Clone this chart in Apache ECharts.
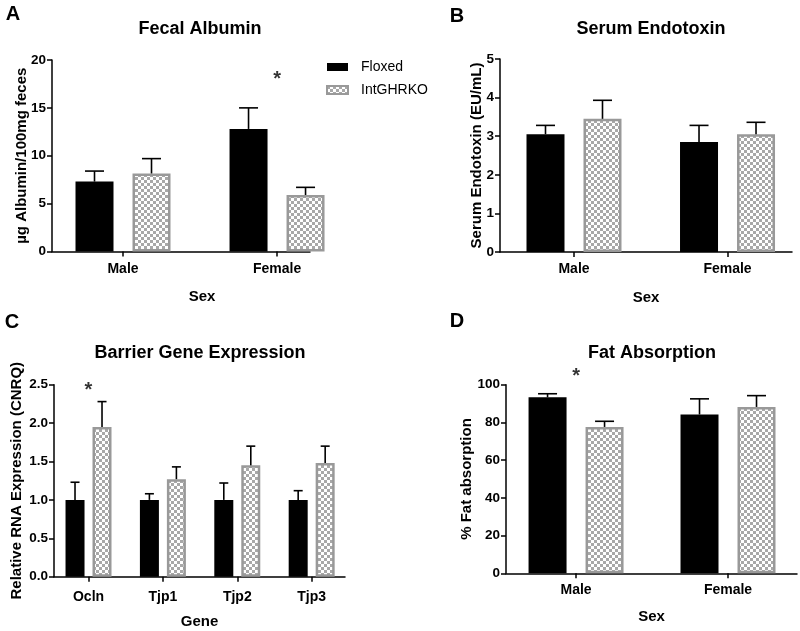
<!DOCTYPE html>
<html><head><meta charset="utf-8">
<script src="https://cdn.jsdelivr.net/npm/echarts@6/dist/echarts.min.js"></script>
<style>html,body{margin:0;padding:0;background:#fff}#c{width:800px;height:631px}</style>
</head><body><div id="c"></div>
<script>
// ---- data ----
const sexCats = ['Male', 'Female'];
const geneCats = ['Ocln', 'Tjp1', 'Tjp2', 'Tjp3'];
const seriesNames = ['Floxed', 'IntGHRKO'];

const albFloxed = [7.3, 12.8];
const albFloxedTop = [8.4, 15.0];
const albKO = [8.15, 5.9];
const albKOTop = [9.7, 6.7];

const endoFloxed = [3.05, 2.85];
const endoFloxedTop = [3.28, 3.28];
const endoKO = [3.45, 3.05];
const endoKOTop = [3.93, 3.36];

const geneFloxed = [1.0, 1.0, 1.0, 1.0];
const geneFloxedTop = [1.23, 1.08, 1.22, 1.12];
const geneKO = [1.95, 1.27, 1.45, 1.48];
const geneKOTop = [2.28, 1.43, 1.70, 1.70];

const fatFloxed = [93.3, 84.2];
const fatFloxedTop = [95.2, 92.5];
const fatKO = [77.6, 88.2];
const fatKOTop = [80.6, 94.2];

// significance marks: [category index, height]
const sigA = [[1, 18.0]];
const sigB = [];
const sigC = [[0, 2.42]];
const sigD = [[0, 104.6]];

const titles = ['Fecal Albumin', 'Serum Endotoxin', 'Barrier Gene Expression', 'Fat Absorption'];
const yNames = ['\u00b5g Albumin/100mg feces', 'Serum Endotoxin (EU/mL)', 'Relative RNA Expression (CNRQ)', '% Fat absorption'];
const xNames = ['Sex', 'Sex', 'Gene', 'Sex'];
const panelLetters = ['A', 'B', 'C', 'D'];

// ---- styling ----
const FF = '"Liberation Sans", Arial, Helvetica, sans-serif';
const pc = document.createElement('canvas');
pc.width = 6; pc.height = 6;
const pctx = pc.getContext('2d');
pctx.fillStyle = '#ffffff'; pctx.fillRect(0, 0, 6, 6);
pctx.fillStyle = '#a8a8a8'; pctx.fillRect(0, 0, 3, 3); pctx.fillRect(3, 3, 3, 3);
const checker = { image: pc, repeat: 'repeat' };

const panels = [
  { cats: sexCats, fl: albFloxed, flT: albFloxedTop, ko: albKO, koT: albKOTop, sig: sigA,
    grid: { left: 52, top: 60, width: 258, height: 191.5 }, xmin: -0.461, xmax: 1.214,
    ymax: 20, yint: 5, dec: 0, bw: 38, gap: '50%', off: 28.5, cap: 19, nameGapY: 23, nameGapX: 38, xPad: 42, lblMargin: 11 },
  { cats: sexCats, fl: endoFloxed, flT: endoFloxedTop, ko: endoKO, koT: endoKOTop, sig: sigB,
    grid: { left: 500, top: 59, width: 292, height: 193 }, xmin: -0.482, xmax: 1.42,
    ymax: 5, yint: 1, dec: 0, bw: 38, gap: '50%', off: 28.5, cap: 19, nameGapY: 16, nameGapX: 38, xPad: 0, lblMargin: 10 },
  { cats: geneCats, fl: geneFloxed, flT: geneFloxedTop, ko: geneKO, koT: geneKOTop, sig: sigC,
    grid: { left: 54, top: 384.7, width: 291, height: 192 }, xmin: -0.464, xmax: 3.448,
    ymax: 2.5, yint: 0.5, dec: 1, bw: 19, gap: '42%', off: 13.5, cap: 9, nameGapY: 30, nameGapX: 38, xPad: 0, lblMargin: 13 },
  { cats: sexCats, fl: fatFloxed, flT: fatFloxedTop, ko: fatKO, koT: fatKOTop, sig: sigD,
    grid: { left: 506, top: 384.7, width: 291, height: 188.6 }, xmin: -0.461, xmax: 1.454,
    ymax: 100, yint: 20, dec: 0, bw: 38, gap: '50%', off: 28.5, cap: 19, nameGapY: 32, nameGapX: 36, xPad: 0, lblMargin: 10 }
];

const titlePos = [[200, 29], [651, 29], [200, 353], [652, 353]];
const letterPos = [[13, 14], [457, 16], [12, 322], [457, 321]];

function errRender(offset, capW) {
  return function (params, api) {
    const x = api.value(0), v = api.value(1), t = api.value(2);
    const p0 = api.coord([x, v]);
    const p1 = api.coord([x, t]);
    const cx = p0[0] + offset;
    const st = { stroke: '#000', lineWidth: 1.6 };
    return { type: 'group', children: [
      { type: 'line', shape: { x1: cx, y1: p0[1], x2: cx, y2: p1[1] }, style: st },
      { type: 'line', shape: { x1: cx - capW / 2, y1: p1[1], x2: cx + capW / 2, y2: p1[1] }, style: st }
    ] };
  };
}

const grids = [], xAxes = [], yAxes = [], series = [], graphics = [];
panels.forEach(function (p, i) {
  grids.push(p.grid);
  const idx = p.cats.map(function (_, k) { return k; });
  xAxes.push({
    type: 'value', gridIndex: i, min: p.xmin, max: p.xmax,
    name: xNames[i], nameLocation: 'middle', nameGap: p.nameGapX, nameMoveOverlap: false,
    nameTextStyle: { fontFamily: FF, fontWeight: 'bold', fontSize: 15, color: '#000', padding: [0, 0, 0, p.xPad] },
    axisLine: { show: true, onZero: false, lineStyle: { color: '#000', width: 1.5 } },
    axisTick: { show: true, customValues: idx, length: 5, lineStyle: { color: '#000', width: 1.5 } },
    axisLabel: { show: true, customValues: idx, margin: p.lblMargin, fontFamily: FF, fontWeight: 'bold', fontSize: 14, color: '#000',
      formatter: function (v) { return p.cats[Math.round(v)]; } },
    splitLine: { show: false }
  });
  yAxes.push({
    type: 'value', gridIndex: i, min: 0, max: p.ymax, interval: p.yint,
    name: yNames[i], nameLocation: 'middle', nameRotate: 90, nameGap: p.nameGapY, nameMoveOverlap: false,
    nameTextStyle: { fontFamily: FF, fontWeight: 'bold', fontSize: 15, color: '#000' },
    axisLine: { show: true, onZero: false, lineStyle: { color: '#000', width: 1.5 } },
    axisTick: { show: true, length: 5, lineStyle: { color: '#000', width: 1.5 } },
    axisLabel: { margin: 6, fontFamily: FF, fontWeight: 'bold', fontSize: 13.5, color: '#000',
      formatter: function (v) { return v.toFixed(p.dec); } },
    splitLine: { show: false }
  });
  series.push({
    type: 'bar', name: seriesNames[0], xAxisIndex: i, yAxisIndex: i,
    barWidth: p.bw, barGap: p.gap,
    data: p.fl.map(function (v, k) { return [k, v]; }),
    itemStyle: { color: '#000' }
  });
  series.push({
    type: 'bar', name: seriesNames[1], xAxisIndex: i, yAxisIndex: i,
    barWidth: p.bw, barGap: p.gap,
    data: p.ko.map(function (v, k) { return [k, v]; }),
    itemStyle: { color: checker, borderColor: '#999999', borderWidth: 2.5 }
  });
  series.push({
    type: 'custom', name: 'errFl' + i, xAxisIndex: i, yAxisIndex: i, z: 3,
    renderItem: errRender(-p.off, p.cap), encode: { x: 0, y: [1, 2] },
    data: p.fl.map(function (v, k) { return [k, v, p.flT[k]]; })
  });
  series.push({
    type: 'custom', name: 'errKo' + i, xAxisIndex: i, yAxisIndex: i, z: 3,
    renderItem: errRender(p.off, p.cap), encode: { x: 0, y: [1, 2] },
    data: p.ko.map(function (v, k) { return [k, v, p.koT[k]]; })
  });
  series.push({
    type: 'scatter', name: 'sig' + i, xAxisIndex: i, yAxisIndex: i, clip: false, silent: true,
    symbolSize: 1, itemStyle: { color: 'rgba(0,0,0,0)' },
    label: { show: true, position: 'inside', formatter: '*', fontFamily: FF, fontWeight: 'bold', fontSize: 20, color: '#000' },
    data: p.sig
  });
  graphics.push({ type: 'text', x: titlePos[i][0], y: titlePos[i][1],
    style: { text: titles[i], font: 'bold 18px ' + FF, fill: '#000', textAlign: 'center', textVerticalAlign: 'middle', align: 'center', verticalAlign: 'middle' } });
  graphics.push({ type: 'text', x: letterPos[i][0], y: letterPos[i][1],
    style: { text: panelLetters[i], font: 'bold 20px ' + FF, fill: '#000', textAlign: 'center', textVerticalAlign: 'middle', align: 'center', verticalAlign: 'middle' } });
});

const chart = echarts.init(document.getElementById('c'), null, { renderer: 'canvas' });
chart.setOption({
  animation: false,
  backgroundColor: '#fff',
  grid: grids, xAxis: xAxes, yAxis: yAxes, series: series, graphic: graphics,
  legend: {
    data: seriesNames, orient: 'vertical', left: 326, top: 60, padding: 0, itemWidth: 21, itemHeight: 8, itemGap: 9,
    icon: 'rect', selectedMode: false,
    textStyle: { fontFamily: FF, fontSize: 14, color: '#000', padding: [0, 0, 0, 8] }
  }
});
</script></body></html>
